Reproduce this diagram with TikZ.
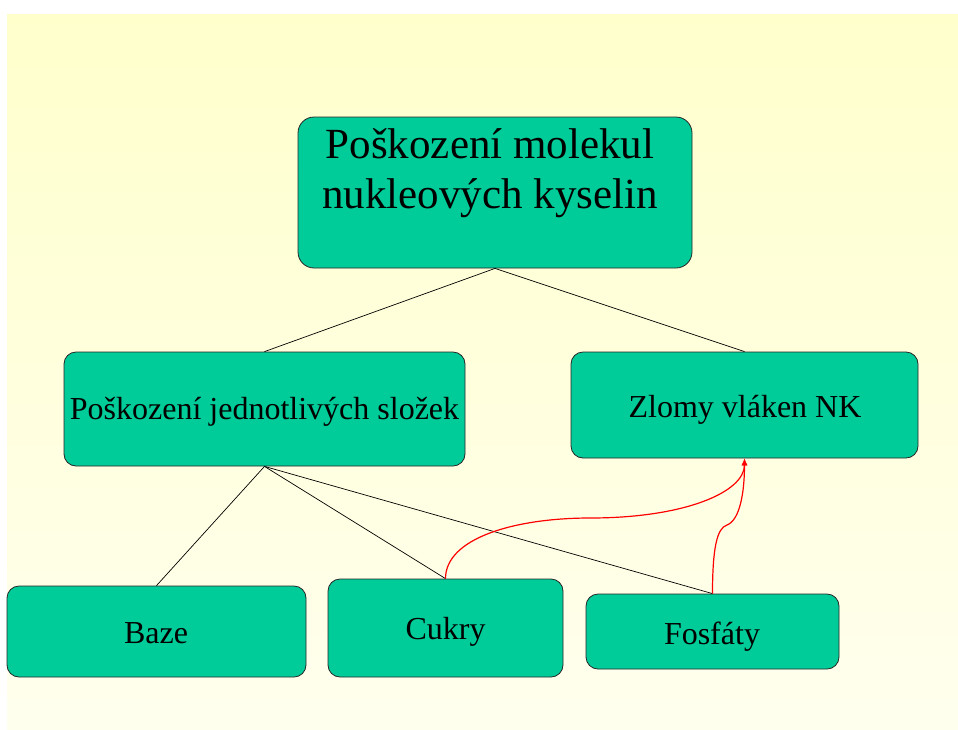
\documentclass[tikz,border=0pt]{standalone}
\usepackage{fontspec}
\setmainfont{Liberation Serif}
\usetikzlibrary{arrows.meta}
\definecolor{boxgreen}{RGB}{0,204,153}
\definecolor{bgtop}{RGB}{255,255,204}
\definecolor{bgbot}{RGB}{255,255,238}
\begin{document}
\begin{tikzpicture}[x=1pt,y=-1pt,
  box/.style={draw=black!85, line width=0.8pt, fill=boxgreen, rounded corners=12pt, inner sep=0pt},
  lbl/.style={anchor=base, inner sep=0pt, font=\fontsize{32}{38}\selectfont},
  biglbl/.style={anchor=base, inner sep=0pt, font=\fontsize{43}{50}\selectfont},
  link/.style={draw=black, line width=0.7pt},
  redlink/.style={draw=red, line width=1.2pt, -{Latex[length=7pt,width=6pt]}}]
\useasboundingbox (0,0) rectangle (958,729);
\shade[top color=bgtop, bottom color=bgbot] (7,14) rectangle (958,729);
% boxes
\node[box, rounded corners=16pt, minimum width=394pt, minimum height=151pt] (top) at (495,192.5) {};
\node[box, minimum width=401pt, minimum height=114pt] (left) at (264.5,409) {};
\node[box, minimum width=347pt, minimum height=106pt] (right) at (744.5,405) {};
\node[box, minimum width=299pt, minimum height=91pt] (baze) at (156.5,631.5) {};
\node[box, minimum width=235pt, minimum height=98pt] (cukry) at (445.5,628) {};
\node[box, minimum width=253pt, minimum height=75pt] (fosfaty) at (712.5,631.5) {};
% texts
\node[biglbl] (t1) at (490,158) {Poškození molekul};
\node[biglbl] (t2) at (490,208) {nukleových kyselin};
\node[lbl] (tleft) at (264.5,419) {Poškození jednotlivých složek};
\node[lbl] (tright) at (745,417) {Zlomy vláken NK};
\node[lbl] (tbaze) at (156,643) {Baze};
\node[lbl] (tcukry) at (445.5,639) {Cukry};
\node[lbl] (tfos) at (712,644) {Fosfáty};
% connectors
\draw[link] (top.south) -- (left.north);
\draw[link] (top.south) -- (right.north);
\draw[link] (left.south) -- (baze.north);
\draw[link] (left.south) -- (cukry.north);
\draw[link] (left.south) -- (fosfaty.north);
% red arrows
\draw[redlink] (cukry.north) .. controls (445.5,538) and (515,518) .. (590,518)
  .. controls (685,518) and (744.5,492) .. (right.south);
\draw[redlink] (fosfaty.north) .. controls (712.5,548) and (717,528) .. (727,525)
  .. controls (740,520) and (744.5,492) .. (right.south);
\end{tikzpicture}
\end{document}
